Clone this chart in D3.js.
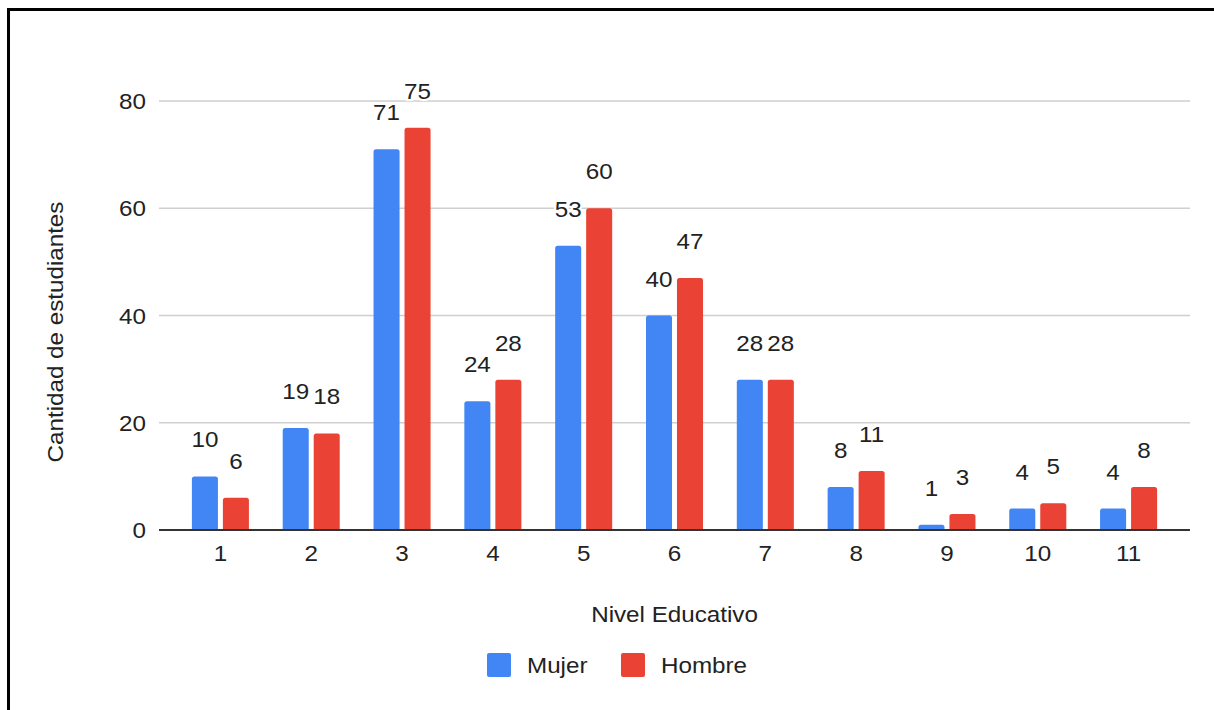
<!DOCTYPE html>
<html>
<head>
<meta charset="utf-8">
<script src="https://cdn.jsdelivr.net/npm/d3@7"></script>
<style>
  html, body { margin: 0; padding: 0; background: #fff; }
  svg { display: block; font-family: "Liberation Sans", Arial, Helvetica, sans-serif; }
</style>
</head>
<body>
<svg id="chart" width="1214" height="710"></svg>
<script>
const categories = ["1", "2", "3", "4", "5", "6", "7", "8", "9", "10", "11"];
const mujer = [10, 19, 71, 24, 53, 40, 28, 8, 1, 4, 4];
const hombre = [6, 18, 75, 28, 60, 47, 28, 11, 3, 5, 8];
const seriesNames = ["Mujer", "Hombre"];
const seriesColors = ["#4285F4", "#EA4335"];
const yTicks = [0, 20, 40, 60, 80];
const xTitle = "Nivel Educativo";
const yTitle = "Cantidad de estudiantes";

const svg = d3.select("#chart");
const W = 1214, H = 710;
const FS = 22, SX = 1.1, TXT = "#222";
const place = (x, y, extra = "") => `translate(${x},${y})${extra} scale(${SX},1)`;

// border
svg.append("rect")
  .attr("x", 8.5).attr("y", 9.5)
  .attr("width", W + 10).attr("height", H + 10)
  .attr("fill", "#fff").attr("stroke", "#000").attr("stroke-width", 3);

const plotLeft = 159, plotRight = 1190;
const x = d3.scaleBand().domain(categories)
  .range([175, 1174]).paddingInner(0.372).paddingOuter(0.186);
const xs = d3.scaleBand().domain(seriesNames)
  .range([0, x.bandwidth()]).paddingInner(0.16);
const y = d3.scaleLinear().domain([0, 80]).range([530, 101]);

// gridlines
svg.append("g").selectAll("line").data(yTicks.filter(d => d !== 0)).join("line")
  .attr("x1", plotLeft).attr("x2", plotRight)
  .attr("y1", d => y(d)).attr("y2", d => y(d))
  .attr("stroke", "#cfcfcf").attr("stroke-width", 1.5);

// y tick labels
svg.append("g").selectAll("text").data(yTicks).join("text")
  .attr("transform", d => place(146, y(d) + 8))
  .attr("text-anchor", "end")
  .attr("font-size", FS).attr("fill", TXT)
  .text(d => d);

// bars
const data = categories.map((c, i) => ({ c, vals: [mujer[i], hombre[i]] }));
const groups = svg.append("g").selectAll("g").data(data).join("g")
  .attr("transform", d => `translate(${x(d.c)},0)`);

groups.selectAll("path.bar").data(d => d.vals.map((v, j) => ({ v, s: seriesNames[j], j })))
  .join("path").attr("class", "bar")
  .attr("fill", d => seriesColors[d.j])
  .attr("d", d => {
    const x0 = xs(d.s), w = xs.bandwidth();
    const top = y(d.v), bot = y(0);
    const r = Math.min(2.5, (bot - top) / 2);
    return `M${x0},${bot} L${x0},${top + r} Q${x0},${top} ${x0 + r},${top} L${x0 + w - r},${top} Q${x0 + w},${top} ${x0 + w},${top + r} L${x0 + w},${bot} Z`;
  });

// baseline
svg.append("line")
  .attr("x1", plotLeft).attr("x2", plotRight)
  .attr("y1", y(0)).attr("y2", y(0))
  .attr("stroke", "#333").attr("stroke-width", 2);

// data labels
groups.selectAll("text.lbl").data(d => d.vals.map((v, j) => ({ v, s: seriesNames[j], j })))
  .join("text").attr("class", "lbl")
  .attr("transform", d => place(xs(d.s) + xs.bandwidth() / 2, y(d.v) - 29))
  .attr("text-anchor", "middle")
  .attr("font-size", FS).attr("fill", TXT)
  .attr("stroke", "#fff").attr("stroke-width", 4).attr("paint-order", "stroke")
  .text(d => d.v);

// x tick labels
svg.append("g").selectAll("text").data(categories).join("text")
  .attr("transform", d => place(x(d) + x.bandwidth() / 2, 561))
  .attr("text-anchor", "middle")
  .attr("font-size", FS).attr("fill", TXT)
  .text(d => d);

// axis titles
svg.append("text")
  .attr("transform", place((plotLeft + plotRight) / 2, 622))
  .attr("text-anchor", "middle").attr("font-size", FS).attr("fill", TXT)
  .text(xTitle);

svg.append("text")
  .attr("transform", place(63, 332, " rotate(-90)"))
  .attr("text-anchor", "middle").attr("font-size", FS).attr("fill", TXT)
  .text(yTitle);

// legend
const legendX = [487, 621];
const leg = svg.append("g").selectAll("g").data(seriesNames).join("g")
  .attr("transform", (d, i) => `translate(${legendX[i]},653)`);
leg.append("rect").attr("width", 24).attr("height", 24).attr("rx", 2)
  .attr("fill", (d, i) => seriesColors[i]);
leg.append("text").attr("transform", place(40, 20))
  .attr("font-size", FS).attr("fill", TXT)
  .text(d => d);
</script>
</body>
</html>
